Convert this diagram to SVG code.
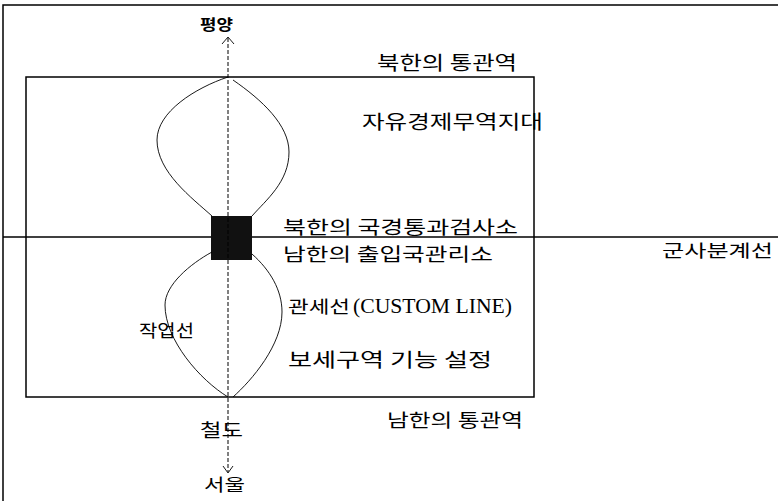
<svg xmlns="http://www.w3.org/2000/svg" width="778" height="501" viewBox="0 0 778 501">
<defs>
<style>
.ln{fill:none;stroke:#000;stroke-width:1.5}
.cv{fill:none;stroke:#000;stroke-width:0.9}
.ds{fill:none;stroke:#000;stroke-width:1;stroke-dasharray:4 2}
.k{font-family:"Noto Sans CJK KR","Noto Sans",sans-serif;fill:#000}
.s{font-family:"Liberation Serif",serif;fill:#000}
</style>
</defs>
<rect width="778" height="501" fill="#fff"/>
<g id="frame">
<path class="ln" d="M3,501 V5 H778"/>
</g>
<g id="zone">
<rect class="ln" x="26" y="77" width="508" height="320"/>
</g>
<g id="demarcation">
<line class="ln" x1="3" y1="237" x2="778" y2="237"/>
<text class="k" x="662" y="257" font-size="17" textLength="111" lengthAdjust="spacingAndGlyphs">군사분계선</text>
</g>
<g id="checkpoint">
<rect x="211" y="216" width="41" height="44" fill="#111"/>
</g>
<g id="connectors">
<line class="ds" x1="228" y1="38" x2="228" y2="472"/>
<path class="cv" d="M222,44 L228,37 L234,44"/>
<path class="cv" d="M223,466 L228,473 L233,466"/>
<path class="cv" d="M228,77 C195,88 157,112 157,140 C157,172 192,198 212,216"/>
<path class="cv" d="M233,80 C262,100 289,125 289,152 C289,182 266,200 252,216"/>
<path class="cv" d="M212,252 C190,264 165,285 165,305 C165,340 200,380 228,397"/>
<path class="cv" d="M252,254 C270,270 282,290 282,312 C282,345 252,380 233,397"/>
</g>
<g id="labels">
<text class="k" x="200" y="30" font-size="15" font-weight="bold" textLength="33" lengthAdjust="spacingAndGlyphs">평양</text>
<text class="k" x="377" y="70" font-size="19" textLength="140" lengthAdjust="spacingAndGlyphs">북한의 통관역</text>
<text class="k" x="362" y="129" font-size="19" textLength="181" lengthAdjust="spacingAndGlyphs">자유경제무역지대</text>
<text class="k" x="283" y="234" font-size="18" textLength="235" lengthAdjust="spacingAndGlyphs">북한의 국경통과검사소</text>
<text class="k" x="283" y="261" font-size="18" textLength="210" lengthAdjust="spacingAndGlyphs">남한의 출입국관리소</text>
<text class="k" x="288" y="313" font-size="17"><tspan textLength="62" lengthAdjust="spacingAndGlyphs">관세선</tspan><tspan class="s" x="353" font-size="20.5" textLength="159" lengthAdjust="spacingAndGlyphs">(CUSTOM LINE)</tspan></text>
<text class="k" x="139" y="337" font-size="17" textLength="55" lengthAdjust="spacingAndGlyphs">작업선</text>
<text class="k" x="288" y="367" font-size="19" textLength="204" lengthAdjust="spacingAndGlyphs">보세구역 기능 설정</text>
<text class="k" x="387" y="427" font-size="18" textLength="136" lengthAdjust="spacingAndGlyphs">남한의 통관역</text>
<text class="k" x="200" y="437" font-size="18" textLength="43" lengthAdjust="spacingAndGlyphs">철도</text>
<text class="k" x="204" y="491" font-size="17" textLength="41" lengthAdjust="spacingAndGlyphs">서울</text>
</g>
</svg>
